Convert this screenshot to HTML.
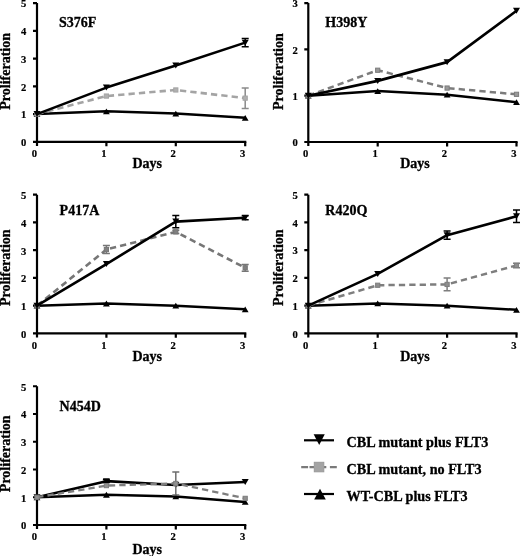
<!DOCTYPE html>
<html><head><meta charset="utf-8"><style>
html,body{margin:0;padding:0;background:#fff;}
body{width:520px;height:556px;overflow:hidden;}
svg{display:block;}
svg{will-change:transform;}
.t{font-family:"Liberation Serif", serif;font-weight:bold;font-size:10.6px;fill:#000;stroke:#000;stroke-width:0.2px;}
.L{font-family:"Liberation Serif", serif;font-weight:bold;font-size:14px;fill:#000;stroke:#000;stroke-width:0.3px;}
.G{font-size:14.2px;}
</style></head><body>
<svg width="520" height="556" viewBox="0 0 520 556">
<rect width="520" height="556" fill="#fff"/>
<path d="M37.00 3.10V145.95M35.90 141.85H246.30" stroke="#000" stroke-width="2.2" fill="none"/>
<path d="M33.00 141.85H37.00M33.00 114.10H37.00M33.00 86.35H37.00M33.00 58.60H37.00M33.00 30.85H37.00M33.00 3.10H37.00M106.40 141.85V146.25M175.80 141.85V146.25M245.20 141.85V146.25" stroke="#000" stroke-width="2.2" fill="none"/>
<text x="26.40" y="146.15" text-anchor="end" class="t">0</text>
<text x="26.40" y="118.40" text-anchor="end" class="t">1</text>
<text x="26.40" y="90.65" text-anchor="end" class="t">2</text>
<text x="26.40" y="62.90" text-anchor="end" class="t">3</text>
<text x="26.40" y="35.15" text-anchor="end" class="t">4</text>
<text x="26.40" y="7.40" text-anchor="end" class="t">5</text>
<text x="34.40" y="157.25" text-anchor="middle" class="t">0</text>
<text x="103.80" y="157.25" text-anchor="middle" class="t">1</text>
<text x="173.20" y="157.25" text-anchor="middle" class="t">2</text>
<text x="242.60" y="157.25" text-anchor="middle" class="t">3</text>
<text x="147.20" y="167.85" text-anchor="middle" class="L">Days</text>
<text transform="translate(10.00 71.35) rotate(-90)" x="0" y="0" text-anchor="middle" class="L">Proliferation</text>
<text x="59.00" y="27.10" class="L">S376F</text>
<polyline points="37.00,114.10 106.40,111.32 175.80,113.54 245.20,117.85" stroke="#000" stroke-width="2.5" fill="none" stroke-linejoin="round"/>
<path d="M33.60 117.00H40.40L37.00 111.20Z" fill="#000"/>
<path d="M103.00 114.22H109.80L106.40 108.42Z" fill="#000"/>
<path d="M172.40 116.44H179.20L175.80 110.64Z" fill="#000"/>
<path d="M241.80 120.75H248.60L245.20 114.95Z" fill="#000"/>
<path d="M37.00 114.10L106.40 96.06" stroke="#a4a4a4" stroke-width="2.6" stroke-dasharray="6.3 4.1" stroke-dashoffset="-0.20" fill="none"/>
<path d="M106.40 96.06L175.80 89.96" stroke="#a4a4a4" stroke-width="2.6" stroke-dasharray="6.3 4.1" stroke-dashoffset="-1.40" fill="none"/>
<path d="M175.80 89.96L245.20 98.14" stroke="#a4a4a4" stroke-width="2.6" stroke-dasharray="6.3 4.1" stroke-dashoffset="-4.20" fill="none"/>
<rect x="34.90" y="112.00" width="4.20" height="4.20" fill="#b0b0b0" stroke="#a4a4a4" stroke-width="1"/>
<rect x="104.30" y="93.96" width="4.20" height="4.20" fill="#b0b0b0" stroke="#a4a4a4" stroke-width="1"/>
<rect x="173.70" y="87.86" width="4.20" height="4.20" fill="#b0b0b0" stroke="#a4a4a4" stroke-width="1"/>
<path d="M245.20 87.88V108.41M241.70 87.88H248.70M241.70 108.41H248.70" stroke="#8a8a8a" stroke-width="1.5" fill="none"/>
<rect x="243.10" y="96.04" width="4.20" height="4.20" fill="#b0b0b0" stroke="#a4a4a4" stroke-width="1"/>
<polyline points="37.00,114.10 106.40,87.60 175.80,65.54 245.20,42.64" stroke="#000" stroke-width="2.6" fill="none" stroke-linejoin="round"/>
<path d="M33.50 111.10H40.50L37.00 117.10Z" fill="#000"/>
<path d="M102.90 84.60H109.90L106.40 90.60Z" fill="#000"/>
<path d="M172.30 62.54H179.30L175.80 68.54Z" fill="#000"/>
<path d="M245.20 38.54V46.75M241.70 38.54H248.70M241.70 46.75H248.70" stroke="#000" stroke-width="1.5" fill="none"/>
<path d="M241.70 39.64H248.70L245.20 45.64Z" fill="#000"/>
<path d="M308.30 3.10V146.10M307.20 142.00H517.60" stroke="#000" stroke-width="2.2" fill="none"/>
<path d="M304.30 142.00H308.30M304.30 95.70H308.30M304.30 49.40H308.30M304.30 3.10H308.30M377.70 142.00V146.40M447.10 142.00V146.40M516.50 142.00V146.40" stroke="#000" stroke-width="2.2" fill="none"/>
<text x="297.70" y="146.30" text-anchor="end" class="t">0</text>
<text x="297.70" y="100.00" text-anchor="end" class="t">1</text>
<text x="297.70" y="53.70" text-anchor="end" class="t">2</text>
<text x="297.70" y="7.40" text-anchor="end" class="t">3</text>
<text x="305.70" y="157.40" text-anchor="middle" class="t">0</text>
<text x="375.10" y="157.40" text-anchor="middle" class="t">1</text>
<text x="444.50" y="157.40" text-anchor="middle" class="t">2</text>
<text x="513.90" y="157.40" text-anchor="middle" class="t">3</text>
<text x="415.00" y="168.00" text-anchor="middle" class="L">Days</text>
<text transform="translate(282.60 71.60) rotate(-90)" x="0" y="0" text-anchor="middle" class="L">Proliferation</text>
<text x="325.30" y="27.10" class="L">H398Y</text>
<polyline points="308.30,95.70 377.70,91.07 447.10,94.68 516.50,102.18" stroke="#000" stroke-width="2.5" fill="none" stroke-linejoin="round"/>
<path d="M304.90 98.60H311.70L308.30 92.80Z" fill="#000"/>
<path d="M374.30 93.97H381.10L377.70 88.17Z" fill="#000"/>
<path d="M443.70 97.58H450.50L447.10 91.78Z" fill="#000"/>
<path d="M513.10 105.08H519.90L516.50 99.28Z" fill="#000"/>
<path d="M308.30 95.70L377.70 70.23" stroke="#7c7c7c" stroke-width="2.5" stroke-dasharray="6.3 4.1" stroke-dashoffset="-0.00" fill="none"/>
<path d="M377.70 70.23L447.10 88.06" stroke="#7c7c7c" stroke-width="2.5" stroke-dasharray="6.3 4.1" stroke-dashoffset="-9.30" fill="none"/>
<path d="M447.10 88.06L516.50 94.31" stroke="#7c7c7c" stroke-width="2.5" stroke-dasharray="6.3 4.1" stroke-dashoffset="-1.20" fill="none"/>
<rect x="306.20" y="93.60" width="4.20" height="4.20" fill="#999999" stroke="#7c7c7c" stroke-width="1"/>
<rect x="375.60" y="68.14" width="4.20" height="4.20" fill="#999999" stroke="#7c7c7c" stroke-width="1"/>
<rect x="445.00" y="85.96" width="4.20" height="4.20" fill="#999999" stroke="#7c7c7c" stroke-width="1"/>
<rect x="514.40" y="92.21" width="4.20" height="4.20" fill="#999999" stroke="#7c7c7c" stroke-width="1"/>
<polyline points="308.30,95.70 377.70,80.88 447.10,62.13 516.50,10.74" stroke="#000" stroke-width="2.6" fill="none" stroke-linejoin="round"/>
<path d="M304.80 92.70H311.80L308.30 98.70Z" fill="#000"/>
<path d="M374.20 77.88H381.20L377.70 83.88Z" fill="#000"/>
<path d="M443.60 59.13H450.60L447.10 65.13Z" fill="#000"/>
<path d="M513.00 7.74H520.00L516.50 13.74Z" fill="#000"/>
<path d="M37.00 194.70V337.55M35.90 333.45H246.30" stroke="#000" stroke-width="2.2" fill="none"/>
<path d="M33.00 333.45H37.00M33.00 305.70H37.00M33.00 277.95H37.00M33.00 250.20H37.00M33.00 222.45H37.00M33.00 194.70H37.00M106.40 333.45V337.85M175.80 333.45V337.85M245.20 333.45V337.85" stroke="#000" stroke-width="2.2" fill="none"/>
<text x="26.40" y="337.75" text-anchor="end" class="t">0</text>
<text x="26.40" y="310.00" text-anchor="end" class="t">1</text>
<text x="26.40" y="282.25" text-anchor="end" class="t">2</text>
<text x="26.40" y="254.50" text-anchor="end" class="t">3</text>
<text x="26.40" y="226.75" text-anchor="end" class="t">4</text>
<text x="26.40" y="199.00" text-anchor="end" class="t">5</text>
<text x="34.40" y="348.85" text-anchor="middle" class="t">0</text>
<text x="103.80" y="348.85" text-anchor="middle" class="t">1</text>
<text x="173.20" y="348.85" text-anchor="middle" class="t">2</text>
<text x="242.60" y="348.85" text-anchor="middle" class="t">3</text>
<text x="147.20" y="361.25" text-anchor="middle" class="L">Days</text>
<text transform="translate(10.00 267.70) rotate(-90)" x="0" y="0" text-anchor="middle" class="L">Proliferation</text>
<text x="59.60" y="215.00" class="L">P417A</text>
<polyline points="37.00,305.70 106.40,303.48 175.80,305.70 245.20,309.31" stroke="#000" stroke-width="2.5" fill="none" stroke-linejoin="round"/>
<path d="M33.60 308.60H40.40L37.00 302.80Z" fill="#000"/>
<path d="M103.00 306.38H109.80L106.40 300.58Z" fill="#000"/>
<path d="M172.40 308.60H179.20L175.80 302.80Z" fill="#000"/>
<path d="M241.80 312.21H248.60L245.20 306.41Z" fill="#000"/>
<path d="M37.00 305.70L106.40 249.51" stroke="#767676" stroke-width="2.6" stroke-dasharray="6.3 4.1" stroke-dashoffset="-0.30" fill="none"/>
<path d="M106.40 249.51L175.80 231.88" stroke="#767676" stroke-width="2.6" stroke-dasharray="6.3 4.1" stroke-dashoffset="-3.70" fill="none"/>
<path d="M175.80 231.88L245.20 267.82" stroke="#767676" stroke-width="2.6" stroke-dasharray="6.3 4.1" stroke-dashoffset="-5.40" fill="none"/>
<rect x="34.90" y="303.60" width="4.20" height="4.20" fill="#808080" stroke="#767676" stroke-width="1"/>
<path d="M106.40 245.62V253.39M102.90 245.62H109.90M102.90 253.39H109.90" stroke="#767676" stroke-width="1.5" fill="none"/>
<rect x="104.30" y="247.41" width="4.20" height="4.20" fill="#808080" stroke="#767676" stroke-width="1"/>
<path d="M175.80 230.22V233.55M172.30 230.22H179.30M172.30 233.55H179.30" stroke="#767676" stroke-width="1.5" fill="none"/>
<rect x="173.70" y="229.78" width="4.20" height="4.20" fill="#808080" stroke="#767676" stroke-width="1"/>
<path d="M245.20 264.49V271.15M241.70 264.49H248.70M241.70 271.15H248.70" stroke="#767676" stroke-width="1.5" fill="none"/>
<rect x="243.10" y="265.72" width="4.20" height="4.20" fill="#808080" stroke="#767676" stroke-width="1"/>
<polyline points="37.00,305.70 106.40,264.07 175.80,221.62 245.20,217.73" stroke="#000" stroke-width="2.6" fill="none" stroke-linejoin="round"/>
<path d="M33.50 302.70H40.50L37.00 308.70Z" fill="#000"/>
<path d="M102.90 261.07H109.90L106.40 267.07Z" fill="#000"/>
<path d="M175.80 215.51V227.72M172.30 215.51H179.30M172.30 227.72H179.30" stroke="#000" stroke-width="1.5" fill="none"/>
<path d="M172.30 218.62H179.30L175.80 224.62Z" fill="#000"/>
<path d="M245.20 215.79V219.67M241.70 215.79H248.70M241.70 219.67H248.70" stroke="#000" stroke-width="1.5" fill="none"/>
<path d="M241.70 214.73H248.70L245.20 220.73Z" fill="#000"/>
<path d="M308.30 194.65V337.50M307.20 333.40H517.60" stroke="#000" stroke-width="2.2" fill="none"/>
<path d="M304.30 333.40H308.30M304.30 305.65H308.30M304.30 277.90H308.30M304.30 250.15H308.30M304.30 222.40H308.30M304.30 194.65H308.30M377.70 333.40V337.80M447.10 333.40V337.80M516.50 333.40V337.80" stroke="#000" stroke-width="2.2" fill="none"/>
<text x="297.70" y="337.70" text-anchor="end" class="t">0</text>
<text x="297.70" y="309.95" text-anchor="end" class="t">1</text>
<text x="297.70" y="282.20" text-anchor="end" class="t">2</text>
<text x="297.70" y="254.45" text-anchor="end" class="t">3</text>
<text x="297.70" y="226.70" text-anchor="end" class="t">4</text>
<text x="297.70" y="198.95" text-anchor="end" class="t">5</text>
<text x="305.70" y="348.80" text-anchor="middle" class="t">0</text>
<text x="375.10" y="348.80" text-anchor="middle" class="t">1</text>
<text x="444.50" y="348.80" text-anchor="middle" class="t">2</text>
<text x="513.90" y="348.80" text-anchor="middle" class="t">3</text>
<text x="415.00" y="361.20" text-anchor="middle" class="L">Days</text>
<text transform="translate(282.60 267.70) rotate(-90)" x="0" y="0" text-anchor="middle" class="L">Proliferation</text>
<text x="325.30" y="215.00" class="L">R420Q</text>
<polyline points="308.30,305.65 377.70,303.43 447.10,305.65 516.50,309.81" stroke="#000" stroke-width="2.5" fill="none" stroke-linejoin="round"/>
<path d="M304.90 308.55H311.70L308.30 302.75Z" fill="#000"/>
<path d="M374.30 306.33H381.10L377.70 300.53Z" fill="#000"/>
<path d="M443.70 308.55H450.50L447.10 302.75Z" fill="#000"/>
<path d="M513.10 312.71H519.90L516.50 306.91Z" fill="#000"/>
<path d="M308.30 305.65L377.70 285.25" stroke="#7e7e7e" stroke-width="2.5" stroke-dasharray="6.3 4.1" stroke-dashoffset="-0.20" fill="none"/>
<path d="M377.70 285.25L447.10 284.42" stroke="#7e7e7e" stroke-width="2.5" stroke-dasharray="6.3 4.1" stroke-dashoffset="-0.35" fill="none"/>
<path d="M447.10 284.42L516.50 265.41" stroke="#7e7e7e" stroke-width="2.5" stroke-dasharray="6.3 4.1" stroke-dashoffset="-3.90" fill="none"/>
<rect x="306.20" y="303.55" width="4.20" height="4.20" fill="#8e8e8e" stroke="#7e7e7e" stroke-width="1"/>
<rect x="375.60" y="283.15" width="4.20" height="4.20" fill="#8e8e8e" stroke="#7e7e7e" stroke-width="1"/>
<path d="M447.10 278.12V290.72M443.60 278.12H450.60M443.60 290.72H450.60" stroke="#7e7e7e" stroke-width="1.5" fill="none"/>
<rect x="445.00" y="282.32" width="4.20" height="4.20" fill="#8e8e8e" stroke="#7e7e7e" stroke-width="1"/>
<path d="M516.50 263.19V267.63M513.00 263.19H520.00M513.00 267.63H520.00" stroke="#7e7e7e" stroke-width="1.5" fill="none"/>
<rect x="514.40" y="263.31" width="4.20" height="4.20" fill="#8e8e8e" stroke="#7e7e7e" stroke-width="1"/>
<polyline points="308.30,305.65 377.70,273.88 447.10,235.16 516.50,216.29" stroke="#000" stroke-width="2.6" fill="none" stroke-linejoin="round"/>
<path d="M304.80 302.65H311.80L308.30 308.65Z" fill="#000"/>
<path d="M374.20 270.88H381.20L377.70 276.88Z" fill="#000"/>
<path d="M447.10 231.00V239.33M443.60 231.00H450.60M443.60 239.33H450.60" stroke="#000" stroke-width="1.5" fill="none"/>
<path d="M443.60 232.16H450.60L447.10 238.16Z" fill="#000"/>
<path d="M516.50 210.08V222.51M513.00 210.08H520.00M513.00 222.51H520.00" stroke="#000" stroke-width="1.5" fill="none"/>
<path d="M513.00 213.29H520.00L516.50 219.29Z" fill="#000"/>
<path d="M37.00 386.25V529.10M35.90 525.00H246.30" stroke="#000" stroke-width="2.2" fill="none"/>
<path d="M33.00 525.00H37.00M33.00 497.25H37.00M33.00 469.50H37.00M33.00 441.75H37.00M33.00 414.00H37.00M33.00 386.25H37.00M106.40 525.00V529.40M175.80 525.00V529.40M245.20 525.00V529.40" stroke="#000" stroke-width="2.2" fill="none"/>
<text x="26.40" y="529.30" text-anchor="end" class="t">0</text>
<text x="26.40" y="501.55" text-anchor="end" class="t">1</text>
<text x="26.40" y="473.80" text-anchor="end" class="t">2</text>
<text x="26.40" y="446.05" text-anchor="end" class="t">3</text>
<text x="26.40" y="418.30" text-anchor="end" class="t">4</text>
<text x="26.40" y="390.55" text-anchor="end" class="t">5</text>
<text x="34.40" y="540.40" text-anchor="middle" class="t">0</text>
<text x="103.80" y="540.40" text-anchor="middle" class="t">1</text>
<text x="173.20" y="540.40" text-anchor="middle" class="t">2</text>
<text x="242.60" y="540.40" text-anchor="middle" class="t">3</text>
<text x="147.20" y="553.70" text-anchor="middle" class="L">Days</text>
<text transform="translate(10.00 453.80) rotate(-90)" x="0" y="0" text-anchor="middle" class="L">Proliferation</text>
<text x="59.60" y="410.80" class="L">N454D</text>
<polyline points="37.00,497.25 106.40,494.75 175.80,496.42 245.20,501.97" stroke="#000" stroke-width="2.5" fill="none" stroke-linejoin="round"/>
<path d="M33.60 500.15H40.40L37.00 494.35Z" fill="#000"/>
<path d="M103.00 497.65H109.80L106.40 491.85Z" fill="#000"/>
<path d="M172.40 499.32H179.20L175.80 493.52Z" fill="#000"/>
<path d="M241.80 504.87H248.60L245.20 499.07Z" fill="#000"/>
<polyline points="37.00,497.25 106.40,481.15 175.80,485.04 245.20,481.99" stroke="#000" stroke-width="2.6" fill="none" stroke-linejoin="round"/>
<path d="M33.50 494.25H40.50L37.00 500.25Z" fill="#000"/>
<path d="M106.40 479.77V482.54M102.90 479.77H109.90M102.90 482.54H109.90" stroke="#000" stroke-width="1.5" fill="none"/>
<path d="M102.90 478.15H109.90L106.40 484.15Z" fill="#000"/>
<path d="M172.30 482.04H179.30L175.80 488.04Z" fill="#000"/>
<path d="M241.70 478.99H248.70L245.20 484.99Z" fill="#000"/>
<path d="M37.00 497.25L106.40 485.60" stroke="#7e7e7e" stroke-width="2.3" stroke-dasharray="6.3 4.1" stroke-dashoffset="-0.20" fill="none"/>
<path d="M106.40 485.60L175.80 483.46" stroke="#7e7e7e" stroke-width="2.3" stroke-dasharray="6.3 4.1" stroke-dashoffset="-2.50" fill="none"/>
<path d="M175.80 483.46L245.20 498.36" stroke="#7e7e7e" stroke-width="2.3" stroke-dasharray="6.3 4.1" stroke-dashoffset="-6.00" fill="none"/>
<rect x="34.90" y="495.15" width="4.20" height="4.20" fill="#909090" stroke="#7e7e7e" stroke-width="1"/>
<rect x="104.30" y="483.50" width="4.20" height="4.20" fill="#909090" stroke="#7e7e7e" stroke-width="1"/>
<path d="M175.80 472.00V494.92M172.30 472.00H179.30M172.30 494.92H179.30" stroke="#6e6e6e" stroke-width="1.5" fill="none"/>
<rect x="173.70" y="481.36" width="4.20" height="4.20" fill="#909090" stroke="#7e7e7e" stroke-width="1"/>
<rect x="243.10" y="496.26" width="4.20" height="4.20" fill="#909090" stroke="#7e7e7e" stroke-width="1"/>
<path d="M304 440.3H334" stroke="#000" stroke-width="2.2"/>
<path d="M313.65 434.30H324.75L319.20 445.00Z" fill="#000"/>
<path d="M301.2 467.1H308.1M309.5 467.1H314M324 467.1H326.3M329.9 467.1H336.8" stroke="#7a7a7a" stroke-width="2.2"/>
<rect x="314.30" y="462.30" width="9.50" height="9.50" fill="#a4a4a4" stroke="#999" stroke-width="1"/>
<path d="M304 494.0H334" stroke="#000" stroke-width="2.2"/>
<path d="M314.20 499.50H325.80L320.00 488.80Z" fill="#000"/>
<text x="346.5" y="446.9" class="L G">CBL mutant plus FLT3</text>
<text x="346.5" y="473.9" class="L G">CBL mutant, no FLT3</text>
<text x="346.5" y="501.2" class="L G">WT-CBL plus FLT3</text>
</svg>
</body></html>
